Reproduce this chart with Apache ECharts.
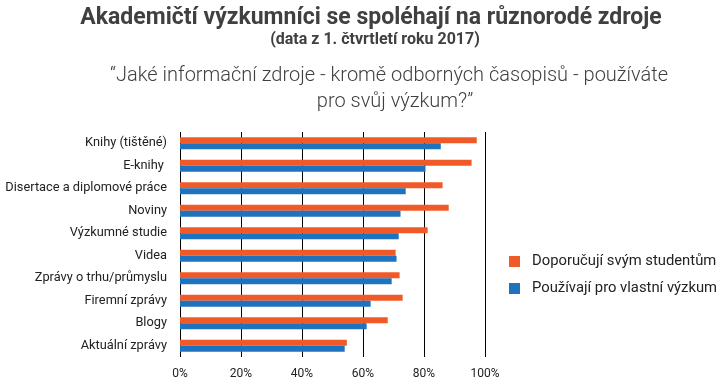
<!DOCTYPE html>
<html>
<head>
<meta charset="utf-8">
<script src="https://cdn.jsdelivr.net/npm/echarts@6/dist/echarts.min.js"></script>
<style>html,body{margin:0;padding:0;background:#fff}#c{width:724px;height:390px}</style>
</head>
<body>
<div id="c"></div>
<script>
const categories = ["Knihy (tištěné)", "E-knihy ", "Disertace a diplomové práce", "Noviny", "Výzkumné studie", "Videa", "Zprávy o trhu/průmyslu", "Firemní zprávy", "Blogy", "Aktuální zprávy"];
const seriesNames = ["Doporučují svým studentům", "Používají pro vlastní výzkum"];
const recommend = [97.3, 95.6, 86.1, 88.1, 81.2, 70.7, 72.0, 73.0, 68.1, 54.7];
const ownResearch = [85.5, 80.5, 74.0, 72.3, 71.7, 71.0, 69.4, 62.5, 61.2, 54.0];
const xTicks = [0, 20, 40, 60, 80, 100];

const chart = echarts.init(document.getElementById('c'), null, {renderer: 'canvas'});
chart.setOption({
  animation: false,
  backgroundColor: '#fff',
  textStyle: {fontFamily: 'Roboto'},
  graphic: [
    {type: 'text', x: 371, y: 18, style: {text: 'Akademičtí výzkumníci se spoléhají na různorodé zdroje', font: 'bold 23px Roboto', fill: '#404040', align: 'center', verticalAlign: 'middle'}},
    {type: 'text', x: 375, y: 40, style: {text: '(data z 1. čtvrtletí roku 2017)', font: 'bold 16px Roboto', fill: '#404040', align: 'center', verticalAlign: 'middle'}},
    {type: 'text', x: 389, y: 76, style: {text: '“Jaké informační zdroje - kromě odborných časopisů - používáte', font: '300 20px Roboto', fill: '#404040', align: 'center', verticalAlign: 'middle'}},
    {type: 'text', x: 395, y: 102, style: {text: 'pro svůj výzkum?”', font: '300 20px Roboto', fill: '#404040', align: 'center', verticalAlign: 'middle'}}
  ],
  legend: {
    orient: 'vertical', left: 504, top: 249, itemWidth: 11, itemHeight: 11, itemGap: 12,
    icon: 'rect', data: seriesNames,
    textStyle: {fontSize: 14.8, color: '#222', fontFamily: 'Roboto', padding: [0, 0, 0, 7]}
  },
  grid: {left: 180, right: 239, top: 132, bottom: 33, containLabel: false},
  xAxis: {
    type: 'value', min: 0, max: 100, interval: 20,
    axisLine: {show: false}, axisTick: {show: false},
    splitLine: {show: true, lineStyle: {color: '#000', width: 1}},
    axisLabel: {formatter: v => xTicks.includes(v) ? v + '%' : '', fontSize: 12, color: '#222', margin: 11}
  },
  yAxis: {
    type: 'category', data: categories, inverse: true,
    axisLine: {show: false}, axisTick: {show: false},
    axisLabel: {fontSize: 12.8, color: '#222', margin: 13}
  },
  series: [
    {name: seriesNames[0], type: 'bar', data: recommend, barWidth: 6, barGap: '0%', itemStyle: {color: '#F05A28'}},
    {name: seriesNames[1], type: 'bar', data: ownResearch, barWidth: 6, barGap: '0%', itemStyle: {color: '#1F72BD'}}
  ]
});
</script>
</body>
</html>
